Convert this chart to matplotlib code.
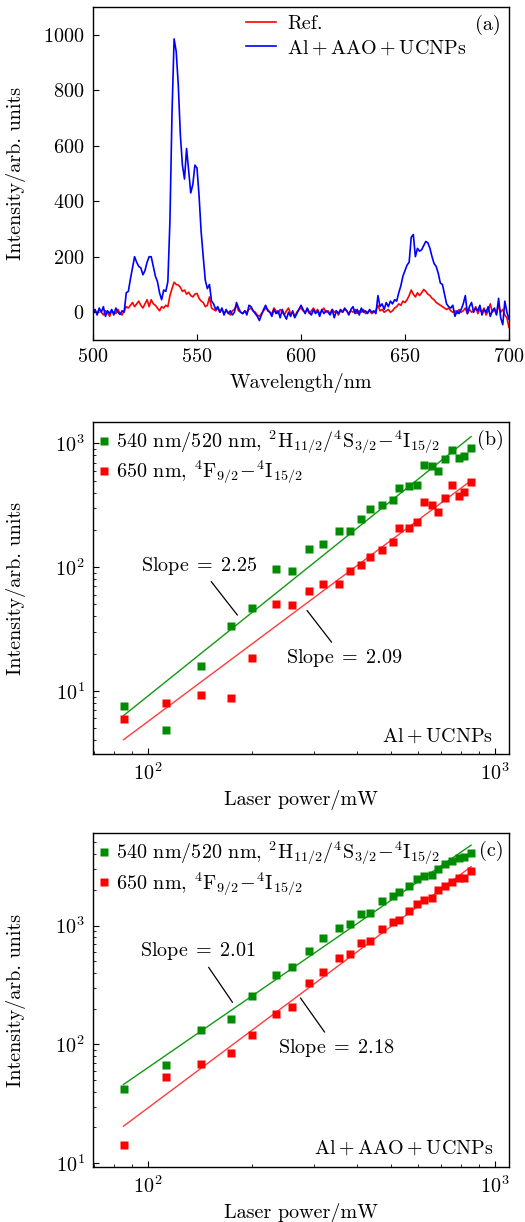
import numpy as np
import matplotlib
matplotlib.use('Agg')
import matplotlib.pyplot as plt

plt.rcParams['font.family'] = 'serif'
plt.rcParams['font.serif'] = ['cmr10']
plt.rcParams['mathtext.fontset'] = 'cm'
plt.rcParams['axes.formatter.use_mathtext'] = True
plt.rcParams['font.size'] = 14.5

# (a) emission spectra, 1 nm steps from 500 to 700 nm
wavelength = np.arange(500, 701)
ref_spec = [
    0, 5, -5, 10, 0, -10, 5, 0, -15, 5,
    0, -5, 10, -5, -10, 5, 20, 15, 25, 35,
    20, 30, 40, 25, 15, 30, 45, 20, 45, 30,
    25, 15, 5, 20, 15, 25, 20, 60, 85, 108,
    100, 98, 90, 75, 80, 65, 72, 60, 55, 65,
    68, 50, 40, 35, 20, 25, 55, 15, 10, 5,
    15, 0, 10, -5, 5, 0, -10, 5, 10, 25,
    5, 0, -5, 5, 0, 10, 15, 5, 0, -10,
    -15, -5, 5, 15, 10, 0, -5, 15, 5, -5,
    10, 0, -10, 5, 15, -5, 0, -15, 0, 10,
    15, 5, 0, 10, -5, 5, 15, 0, 10, -5,
    5, 15, 0, 5, -5, 10, 0, 5, -10, 5,
    0, 10, 5, -5, 5, 0, 10, -5, 5, 0,
    10, -5, 0, 5, -5, 0, 5, 25, 5, 10,
    0, 5, 10, 0, 5, 15, 20, 30, 25, 40,
    35, 45, 60, 80, 65, 55, 70, 60, 70, 82,
    75, 65, 60, 50, 45, 35, 30, 25, 20, 15,
    10, 15, 5, 0, 5, -5, 10, 0, 5, 15,
    -5, 10, 0, 5, 20, -5, 10, 0, 15, -10,
    5, 30, 0, 10, -5, 25, 0, 10, -10, -20,
    -55]
aao_spec = [
    0, 10, -10, 15, 0, 20, -15, 5, -5, 10,
    -10, 15, 0, -8, 5, 0, 70, 75, 120, 160,
    200, 180, 165, 160, 135, 150, 180, 200, 200, 165,
    130, 110, 70, 45, 80, 75, 110, 330, 720, 985,
    940, 820, 640, 530, 480, 590, 510, 430, 460, 530,
    520, 420, 290, 200, 115, 85, 100, 40, 30, 10,
    20, 0, 15, -10, 10, -5, 5, -10, 0, 35,
    15, 0, -5, 5, -10, 25, 20, 5, -5, -15,
    -30, -10, 10, 25, 5, 0, -15, 10, -5, 5,
    -20, 10, -10, -25, 0, -15, 5, -20, -5, 10,
    25, 10, -5, 15, 0, -10, 10, -5, 5, -15,
    10, -5, 5, 0, -10, 10, -20, 5, -5, 10,
    0, 15, 5, -10, 10, 20, -5, 10, -10, 15,
    0, 5, -5, 10, 0, 5, -5, 60, 20, 30,
    10, 35, 20, 40, 30, 45, 40, 70, 95, 130,
    150, 170, 180, 270, 280, 200, 230, 220, 225, 240,
    255, 250, 230, 200, 175, 165, 140, 105, 100, 65,
    30, 20, 15, 25, -15, 5, -5, 10, 30, 60,
    -5, 20, 35, 0, 15, 5, 25, -10, 10, 0,
    20, -15, 5, 15, -10, 50, -20, -45, 40, 0,
    -25]

# (b), (c) power dependence
power = [85, 113, 142, 173, 200, 234, 260, 291, 320, 356, 382, 411, 437,
         472, 508, 529, 566, 595, 626, 657, 687, 718, 750, 788, 814, 853]

b_green = [7.5, 4.8, 16.0, 33.5, 46.8, 97, 93, 141, 155, 197, 197, 245, 295,
           318, 351, 438, 452, 461, 668, 652, 601, 743, 884, 766, 795, 923]
b_red = [5.9, 8.05, 9.2, 8.7, 18.6, 50.7, 49.8, 64.6, 73.1, 72.6, 93.7, 104.8,
         121.6, 138.5, 160.6, 208, 208, 233, 338, 320, 281, 364, 463, 376, 408, 490]

c_green = [42, 67, 133, 163, 255, 383, 451, 612, 788, 962, 1033, 1254, 1279,
           1593, 1778, 1897, 2159, 2442, 2588, 2637, 2985, 3267, 3508, 3672, 3743, 4096]
c_red = [14.3, 53, 68, 84.5, 121, 181, 206, 329, 407, 535, 577, 714, 743,
         932, 1074, 1123, 1331, 1524, 1626, 1691, 1974, 2133, 2303, 2489, 2521, 2891]

# fitted lines: log10(I) = log_a + slope * log10(P)
b_slopes = [2.25, 2.09]
b_log_a = [-3.540, -3.426]
c_slopes = [2.01, 2.18]
c_log_a = [-2.215, -2.894]

green = '#008c00'
red = '#ff0000'
green_line = '#119911'
red_line = '#ff3c3c'

lbl_green = (r'540 nm/520 nm, ${}^{2}\mathrm{H}_{11/2}/{}^{4}\mathrm{S}_{3/2}'
             r'\!-\!{}^{4}\mathrm{I}_{15/2}$')
lbl_red = r'650 nm, ${}^{4}\mathrm{F}_{9/2}\!-\!{}^{4}\mathrm{I}_{15/2}$'

fig = plt.figure(figsize=(5.25, 12.22), dpi=100)
ax_a = fig.add_axes([0.1771, 0.7218, 0.7924, 0.2725])
ax_b = fig.add_axes([0.1771, 0.3830, 0.7924, 0.2717])
ax_c = fig.add_axes([0.1771, 0.0450, 0.7924, 0.2733])


def style(ax):
    ax.tick_params(which='both', direction='in', top=False, right=False, pad=6)
    ax.tick_params(which='major', length=4, width=0.8)
    ax.tick_params(which='minor', length=2.5, width=0.6)
    for s in ax.spines.values():
        s.set_linewidth(1.0)


def slope_text(s):
    return r'$\mathrm{Slope}\;=\;%.2f$' % s


# --- (a) ---
ax_a.plot(wavelength, ref_spec, color='#ff0000', lw=1.2, label='Ref.')
ax_a.plot(wavelength, aao_spec, color='#0000ff', lw=1.2,
          label=r'$\mathrm{Al}+\mathrm{AAO}+\mathrm{UCNPs}$')
ax_a.set_xlim(500, 700)
ax_a.set_ylim(-100, 1100)
ax_a.set_xticks([500, 550, 600, 650, 700])
ax_a.set_yticks([0, 200, 400, 600, 800, 1000])
ax_a.set_xlabel('Wavelength/nm', labelpad=5)
ax_a.set_ylabel('Intensity/arb. units')
ax_a.legend(loc='upper left', bbox_to_anchor=(0.368, 0.975), frameon=False,
            borderpad=0, borderaxespad=0, handlelength=1.5, handletextpad=0.55,
            labelspacing=0.25)
ax_a.text(0.98, 0.945, '(a)', transform=ax_a.transAxes, ha='right', va='center')
style(ax_a)


def power_panel(ax, g, r, slopes, log_a, tag, sample, ylim):
    ax.set_xscale('log')
    ax.set_yscale('log')
    p = np.array(power, dtype=float)
    pf = np.array([p[0], p[-1]])
    ax.plot(pf, 10 ** (log_a[0] + slopes[0] * np.log10(pf)), color=green_line, lw=1.0)
    ax.plot(pf, 10 ** (log_a[1] + slopes[1] * np.log10(pf)), color=red_line, lw=1.0)
    ax.plot(p, g, 's', color=green, ms=5.3, mec='none', label=lbl_green)
    ax.plot(p, r, 's', color=red, ms=5.3, mec='none', label=lbl_red)
    ax.set_xlim(69.4, 1097)
    ax.set_ylim(*ylim)
    ax.set_xlabel('Laser power/mW', labelpad=4)
    ax.set_ylabel('Intensity/arb. units')
    ax.legend(loc='upper left', bbox_to_anchor=(0.012, 0.98), frameon=False,
              borderpad=0, borderaxespad=0, handlelength=0.6, handletextpad=0.3,
              labelspacing=0.15)
    ax.text(0.988, 0.945, tag, transform=ax.transAxes, ha='right', va='center')
    ax.text(0.962, 0.055, sample, transform=ax.transAxes, ha='right', va='center')
    style(ax)


power_panel(ax_b, b_green, b_red, b_slopes, b_log_a, '(b)',
            r'$\mathrm{Al}+\mathrm{UCNPs}$', (3.1, 1490))
ax_b.annotate(slope_text(b_slopes[0]), xy=(183, 39.4), xytext=(140, 103),
              ha='center', va='center', arrowprops=dict(arrowstyle='-', lw=0.9, color='k'))
ax_b.annotate(slope_text(b_slopes[1]), xy=(284, 46.6), xytext=(367, 18.4),
              ha='center', va='center', arrowprops=dict(arrowstyle='-', lw=0.9, color='k'))

power_panel(ax_c, c_green, c_red, c_slopes, c_log_a, '(c)',
            r'$\mathrm{Al}+\mathrm{AAO}+\mathrm{UCNPs}$', (9.3, 6000))
ax_c.annotate(slope_text(c_slopes[0]), xy=(177, 216), xytext=(139, 608),
              ha='center', va='center', arrowprops=dict(arrowstyle='-', lw=0.9, color='k'))
ax_c.annotate(slope_text(c_slopes[1]), xy=(272, 257), xytext=(348, 93),
              ha='center', va='center', arrowprops=dict(arrowstyle='-', lw=0.9, color='k'))

for ax in (ax_a, ax_b, ax_c):
    ax.yaxis.set_label_coords(-0.16, 0.5)

fig.savefig('out.png', dpi=100)
